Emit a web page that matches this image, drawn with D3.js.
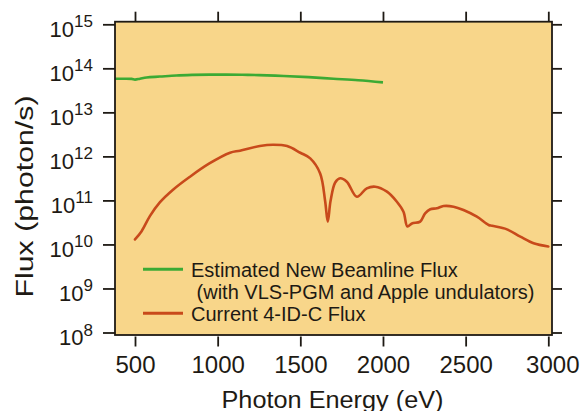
<!DOCTYPE html>
<html>
<head>
<meta charset="utf-8">
<script src="https://cdn.jsdelivr.net/npm/d3@7"></script>
<style>
  html, body { margin: 0; padding: 0; background: #fff; }
  svg { display: block; font-family: "Liberation Sans", Arial, Helvetica, sans-serif; }
</style>
</head>
<body>
<svg id="chart" width="580" height="411"></svg>
<script>
// ---------- data ----------
const newBeamlineEnergy = [380, 430, 480, 500, 530, 570, 650, 750, 850, 950, 1050, 1150, 1250, 1400, 1550, 1700, 1850, 2000];
const newBeamlineFlux   = [5.8e13, 5.8e13, 5.75e13, 5.55e13, 5.8e13, 6.2e13, 6.5e13, 6.9e13, 7.1e13, 7.2e13, 7.2e13, 7.15e13, 7.0e13, 6.7e13, 6.3e13, 5.8e13, 5.35e13, 4.8e13];

const currentEnergy = [500, 540, 590, 650, 730, 830, 950, 1075, 1135, 1255, 1335, 1420, 1500, 1560, 1620, 1650, 1666, 1683, 1711, 1741, 1781, 1842, 1902, 1953, 2024, 2084, 2124, 2148, 2175, 2225, 2255, 2286, 2326, 2366, 2427, 2487, 2568, 2639, 2660, 2750, 2831, 2911, 3000];
const currentFlux   = [1.3e10, 2.0e10, 4.4e10, 9.0e10, 1.75e11, 3.4e11, 6.9e11, 1.21e12, 1.35e12, 1.72e12, 1.84e12, 1.72e12, 1.21e12, 9.0e11, 4.1e11, 9.7e10, 3.3e10, 9.8e10, 2.55e11, 3.18e11, 2.66e11, 1.21e11, 1.88e11, 2.05e11, 1.58e11, 9.35e10, 5.55e10, 2.55e10, 3.0e10, 3.3e10, 5.1e10, 6.3e10, 6.6e10, 7.45e10, 7.2e10, 6.05e10, 4.27e10, 2.77e10, 2.65e10, 2.2e10, 1.5e10, 1.06e10, 9.0e9];

const xTicks = [500, 1000, 1500, 2000, 2500, 3000];
const yTickExponents = [8, 9, 10, 11, 12, 13, 14, 15];

const legendLabels = ["Estimated New Beamline Flux", " (with VLS-PGM and Apple undulators)", "Current 4-ID-C Flux"];
const xTitle = "Photon Energy (eV)";
const yTitle = "Flux (photon/s)";

// ---------- layout ----------
const frame = { left: 115, right: 552, top: 21.7, bottom: 335 };
const COLORS = { bg: "#F8D68A", green: "#3CAA34", orange: "#C84A1B", ink: "#1e1a14" };

const svg = d3.select("#chart");

const x = d3.scaleLinear().domain([500, 3000]).range([135, 548.3]);
const y = d3.scaleLog().domain([1e8, 1e15]).range([332.5, 24.3]);

// plot background
svg.append("rect")
  .attr("x", frame.left).attr("y", frame.top)
  .attr("width", frame.right - frame.left).attr("height", frame.bottom - frame.top)
  .attr("fill", COLORS.bg);

svg.append("defs").append("clipPath").attr("id", "clip")
  .append("rect")
  .attr("x", frame.left).attr("y", frame.top)
  .attr("width", frame.right - frame.left).attr("height", frame.bottom - frame.top);

// curves
const line = d3.line().x(d => x(d[0])).y(d => y(d[1])).curve(d3.curveCatmullRom.alpha(0.5));

const gCurves = svg.append("g").attr("clip-path", "url(#clip)");
gCurves.append("path")
  .datum(currentEnergy.map((e, i) => [e, currentFlux[i]]))
  .attr("d", line).attr("fill", "none")
  .attr("stroke", COLORS.orange).attr("stroke-width", 2.6)
  .attr("stroke-linejoin", "round").attr("stroke-linecap", "round");
gCurves.append("path")
  .datum(newBeamlineEnergy.map((e, i) => [e, newBeamlineFlux[i]]))
  .attr("d", line).attr("fill", "none")
  .attr("stroke", COLORS.green).attr("stroke-width", 2.6)
  .attr("stroke-linejoin", "round");

// frame
svg.append("rect")
  .attr("x", frame.left).attr("y", frame.top)
  .attr("width", frame.right - frame.left).attr("height", frame.bottom - frame.top)
  .attr("fill", "none").attr("stroke", COLORS.ink).attr("stroke-width", 1.8);

// axes via d3 axis generators
const yVals = yTickExponents.map(e => Math.pow(10, e));

const gBottom = svg.append("g").attr("transform", `translate(0,${frame.bottom + 1.5})`)
  .call(d3.axisBottom(x).tickValues(xTicks).tickSize(10).tickSizeOuter(0).tickFormat(d3.format("d")).tickPadding(9));
const gTop = svg.append("g").attr("transform", `translate(0,${frame.top})`)
  .call(d3.axisTop(x).tickValues(xTicks).tickSize(10).tickSizeOuter(0).tickFormat(""));
const gLeft = svg.append("g").attr("transform", `translate(${frame.left},0)`)
  .call(d3.axisLeft(y).tickValues(yVals).tickSize(12).tickSizeOuter(0).tickFormat(""));
const gRight = svg.append("g").attr("transform", `translate(${frame.right},0)`)
  .call(d3.axisRight(y).tickValues(yVals).tickSize(10).tickSizeOuter(0).tickFormat(""));

[gBottom, gTop, gLeft, gRight].forEach(g => {
  g.select(".domain").remove();
  g.selectAll(".tick line").attr("stroke", COLORS.ink).attr("stroke-width", 1.8);
});

gBottom.selectAll(".tick text")
  .attr("fill", COLORS.ink).attr("font-size", 24)
  .attr("font-family", "'Liberation Sans', Arial, sans-serif")
  .attr("dx", d => d === 3000 ? 4 : 0);

// y tick labels: 10^n
const yLab = svg.append("g");
yTickExponents.forEach(e => {
  const t = yLab.append("text")
    .attr("x", 93).attr("y", y(Math.pow(10, e)) + 12.5)
    .attr("text-anchor", "end").attr("fill", COLORS.ink);
  t.append("tspan").attr("font-size", 22).text("10");
  t.append("tspan").attr("font-size", 17).attr("dy", -9.5).text(String(e));
});

// axis titles
svg.append("text")
  .attr("x", 332.5).attr("y", 407.5)
  .attr("text-anchor", "middle").attr("font-size", 23).attr("fill", COLORS.ink)
  .attr("textLength", 222).attr("lengthAdjust", "spacingAndGlyphs")
  .text(xTitle);

svg.append("text")
  .attr("transform", "translate(32.5,196.5) rotate(-90)")
  .attr("text-anchor", "middle").attr("font-size", 23).attr("fill", COLORS.ink)
  .attr("textLength", 202).attr("lengthAdjust", "spacingAndGlyphs")
  .text(yTitle);

// legend
const legend = svg.append("g");
const legendRows = [
  { label: legendLabels[0], color: COLORS.green, baseline: 277, lineY: 269.3, x: 191 },
  { label: legendLabels[1], color: null, baseline: 299, lineY: null, x: 191 },
  { label: legendLabels[2], color: COLORS.orange, baseline: 320.8, lineY: 313.3, x: 191 }
];
legendRows.forEach(r => {
  if (r.color) {
    legend.append("line")
      .attr("x1", 143).attr("x2", 183).attr("y1", r.lineY).attr("y2", r.lineY)
      .attr("stroke", r.color).attr("stroke-width", 3);
  }
  legend.append("text")
    .attr("x", r.x).attr("y", r.baseline)
    .attr("font-size", 20).attr("fill", COLORS.ink)
    .style("white-space", "pre")
    .text(r.label);
});
</script>
</body>
</html>
